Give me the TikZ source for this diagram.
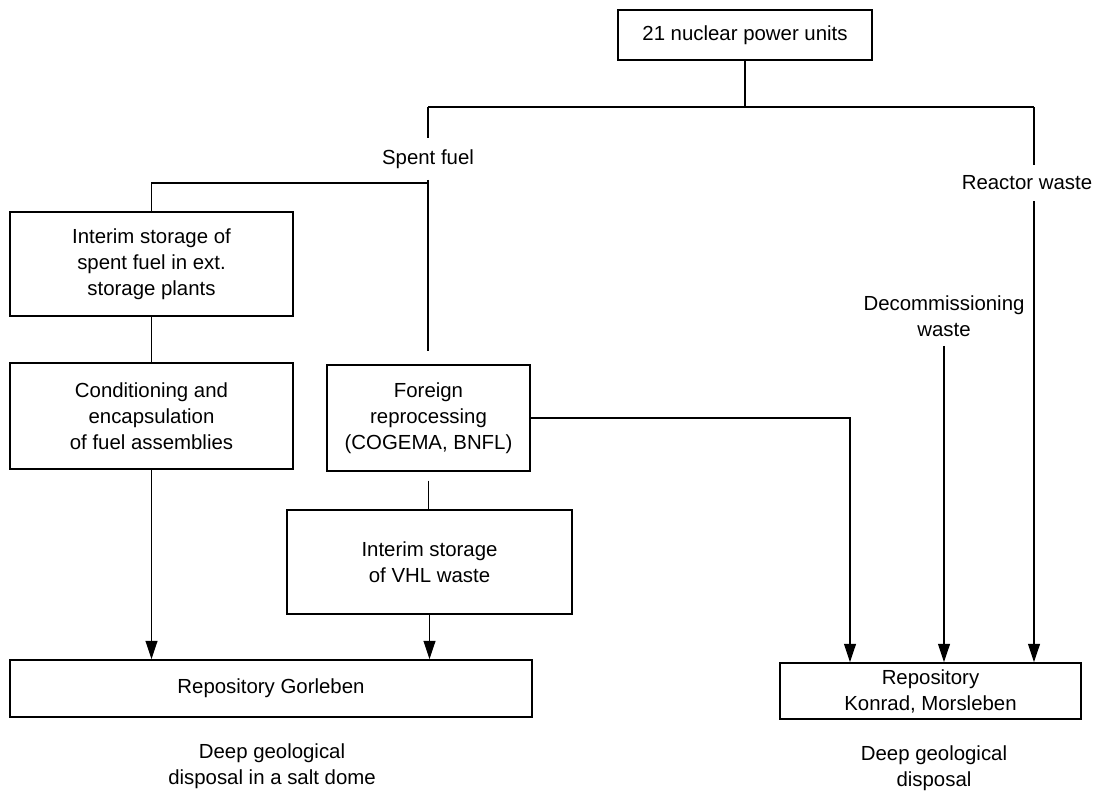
\documentclass[tikz,border=0pt]{standalone}
\usepackage{fontspec}
\setmainfont{Liberation Sans}
\usetikzlibrary{arrows.meta,positioning}
\tikzstyle{wastebox}=[rectangle,draw=black,line width=1.2pt,align=center,inner sep=0pt]
\tikzstyle{flowlabel}=[rectangle,fill=none,align=center,inner xsep=2pt,inner ysep=0.27cm]
\tikzstyle{note}=[rectangle,align=center,inner sep=0pt]

\begin{document}
\begin{tikzpicture}[x=0.025cm,y=-0.025cm,>={Triangle[length=13pt,width=8.5pt]},line width=0.8pt,
  every node/.style={font=\fontsize{14.5pt}{18.5pt}\selectfont}]
%-------------------------frame---------------------
	\useasboundingbox (0,0) rectangle (1101,796);
%--------------------start object code --------------------
	%Boxes
	\node[wastebox,minimum width=6.35cm,minimum height=1.25cm] (units) at (745,35) {21 nuclear power units};
	\node[wastebox,minimum width=7.075cm,minimum height=2.6cm] (interim) at (151.5,264) {Interim storage of\\spent fuel in ext.\\storage plants};
	\node[wastebox,minimum width=7.075cm,minimum height=2.65cm] (cond) at (151.5,416) {Conditioning and\\encapsulation\\of fuel assemblies};
	\node[wastebox,minimum width=5.075cm,minimum height=2.65cm] (foreign) at (428.5,418) {Foreign\\reprocessing\\(COGEMA, BNFL)};
	\node[wastebox,minimum width=7.125cm,minimum height=2.6cm] (vhl) at (429.5,562) {Interim storage\\of VHL waste};
	\node[wastebox,minimum width=13.05cm,minimum height=1.425cm] (gorleben) at (271,688.5) {Repository Gorleben};
	\node[wastebox,minimum width=7.525cm,minimum height=1.4cm] (konrad) at (930.5,691) {Repository\\Konrad, Morsleben};

	%Flow labels
	\node[flowlabel] (spent) at (428,159) {Spent fuel};
	\node[flowlabel] (reactor) at (1027,183) {Reactor waste};
	\node[flowlabel,inner ysep=0.22cm] (decom) at (944,316) {Decommissioning\\waste};

	%Disposal notes
	\node[note] (saltnote) at (272,766) {Deep geological\\disposal in a salt dome};
	\node[note] (deepnote) at (934,768) {Deep geological\\disposal};

	%Branch points
	\coordinate (lsplit) at (428,107);
	\coordinate (rsplit) at (1034,107);
	\coordinate (fork) at (428,183);
	\coordinate (kleft) at (850,0);

	%Spent fuel branch
	\draw (units.south) -- (units.south |- lsplit);
	\draw (lsplit) -- (rsplit);
	\draw (lsplit) -- (spent.north);
	\draw[shorten >=0.33cm] (spent.south) -- (fork) -- (fork |- foreign.north);
	\draw (fork) -| (interim.north);
	\draw (interim.south) -- (cond.north);
	\draw[->] (cond.south) -- (cond.south |- gorleben.north);
	\draw[shorten <=0.22cm] (foreign.south) -- (foreign.south |- vhl.north);
	\draw[->] (vhl.south) -- (vhl.south |- gorleben.north);
	\draw[->] (foreign.east) -| (kleft |- konrad.north);

	%Reactor waste branch
	\draw (rsplit) -- (rsplit |- reactor.north);
	\draw[->] (rsplit |- reactor.south) -- (rsplit |- konrad.north);
	\draw[->] (decom.south) -- (decom.south |- konrad.north);
%-------------------------end object code-----------------------
\end{tikzpicture}
\end{document}
